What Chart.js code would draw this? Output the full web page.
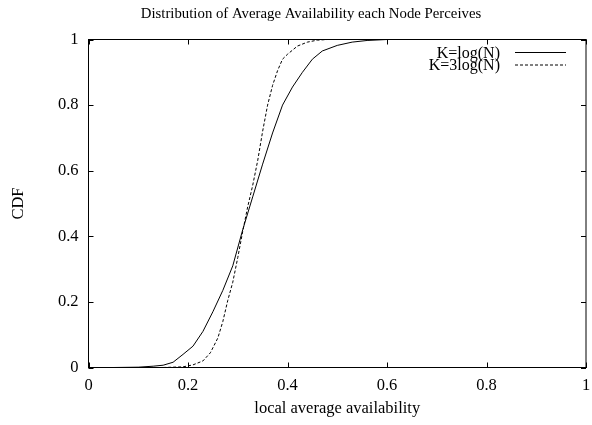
<!DOCTYPE html>
<html>
<head>
	<title>Distribution of Average Availability each Node Perceives</title>
	<script src="https://cdn.jsdelivr.net/npm/chart.js"></script>
	<style>
		html, body { margin: 0; padding: 0; background: #fff; }
		#wrap { width: 592px; height: 425px; }
	</style>
</head>
<body>
	<div id="wrap"><canvas id="cdf"></canvas></div>
	<script>
		var titleText = 'Distribution of Average Availability each Node Perceives';
		var xLabel = 'local average availability';
		var yLabel = 'CDF';
		var tickValues = [0, 0.2, 0.4, 0.6, 0.8, 1];

		// K=log(N)
		var logX = [0.05, 0.10, 0.13, 0.15, 0.17, 0.19, 0.21, 0.23, 0.25, 0.27, 0.29, 0.31, 0.33,
			0.35, 0.37, 0.39, 0.41, 0.43, 0.45, 0.47, 0.50, 0.53, 0.56, 0.60, 0.65];
		var logY = [0, 0.001, 0.004, 0.007, 0.016, 0.04, 0.065, 0.11, 0.17, 0.235, 0.31, 0.42, 0.52,
			0.62, 0.715, 0.80, 0.855, 0.90, 0.94, 0.965, 0.982, 0.992, 0.997, 1.0, 1.0];

		// K=3log(N)
		var log3X = [0.15, 0.19, 0.21, 0.23, 0.245, 0.26, 0.27, 0.28, 0.29, 0.30, 0.31, 0.32, 0.33,
			0.34, 0.35, 0.36, 0.37, 0.38, 0.39, 0.40, 0.42, 0.44, 0.46, 0.48, 0.50];
		var log3Y = [0, 0.002, 0.008, 0.02, 0.045, 0.09, 0.14, 0.205, 0.26, 0.335, 0.415, 0.49, 0.555,
			0.63, 0.72, 0.80, 0.86, 0.905, 0.94, 0.955, 0.98, 0.992, 0.998, 1.0, 1.0];

		var seriesNames = ['K=log(N)', 'K=3log(N)'];

		function toPoints(xs, ys) {
			var pts = [];
			for (var i = 0; i < xs.length; i++) pts.push({x: xs[i], y: ys[i]});
			return pts;
		}

		var serif = '"Liberation Serif", "DejaVu Serif", serif';

		// frame, inward ticks on all four sides, title and gnuplot-style key
		var gnuplotLook = {
			id: 'gnuplotLook',
			afterDatasetsDraw: function(chart) {
				var ctx = chart.ctx;
				var a = chart.chartArea;
				var xs = chart.scales.x, ys = chart.scales.y;
				var len = 5;
				ctx.save();
				ctx.strokeStyle = '#000';
				ctx.lineWidth = 1;
				ctx.setLineDash([]);
				ctx.beginPath();
				tickValues.forEach(function(v) {
					var px = Math.round(xs.getPixelForValue(v)) + 0.5;
					ctx.moveTo(px, a.bottom); ctx.lineTo(px, a.bottom - len);
					ctx.moveTo(px, a.top); ctx.lineTo(px, a.top + len);
					var py = Math.round(ys.getPixelForValue(v)) + 0.5;
					ctx.moveTo(a.left, py); ctx.lineTo(a.left + len, py);
					ctx.moveTo(a.right, py); ctx.lineTo(a.right - len, py);
				});
				ctx.stroke();
				ctx.strokeRect(a.left, a.top, a.right - a.left, a.bottom - a.top);

				ctx.fillStyle = '#000';
				ctx.font = '14.8px ' + serif;
				ctx.textAlign = 'center';
				ctx.textBaseline = 'middle';
				ctx.fillText(titleText, 311, 14);

				ctx.font = '16px ' + serif;
				ctx.textAlign = 'right';
				var rows = [52.5, 65];
				chart.data.datasets.forEach(function(ds, i) {
					ctx.fillText(ds.label, 500, rows[i] + 1);
					ctx.setLineDash(ds.borderDash || []);
					ctx.beginPath();
					ctx.moveTo(515, rows[i]);
					ctx.lineTo(566, rows[i]);
					ctx.stroke();
				});
				ctx.restore();
			}
		};

		function plainLabel(v) { return String(Math.round(v * 10) / 10); }

		new Chart(document.getElementById('cdf'), {
			type: 'scatter',
			data: {
				datasets: [
					{
						label: seriesNames[0],
						data: toPoints(logX, logY),
						showLine: true,
						borderColor: '#000',
						borderWidth: 1,
						pointRadius: 0,
						tension: 0
					},
					{
						label: seriesNames[1],
						data: toPoints(log3X, log3Y),
						showLine: true,
						borderColor: '#000',
						borderWidth: 1,
						borderDash: [3, 2],
						pointRadius: 0,
						tension: 0
					}
				]
			},
			options: {
				responsive: true,
				maintainAspectRatio: false,
				animation: false,
				layout: { padding: { top: 39.5, right: 6, bottom: 0, left: 6 } },
				plugins: {
					legend: { display: false },
					title: { display: false },
					tooltip: { enabled: false }
				},
				scales: {
					x: {
						type: 'linear',
						min: 0, max: 1,
						afterFit: function(s) { s.height = 57.5; s.paddingLeft = 0; s.paddingRight = 0; },
						afterBuildTicks: function(s) { s.ticks = tickValues.map(function(v) { return {value: v}; }); },
						grid: { drawOnChartArea: false, drawTicks: false },
						border: { color: '#000', width: 1 },
						ticks: { color: '#000', padding: 8, font: { family: serif, size: 16.5 }, maxRotation: 0, callback: plainLabel },
						title: { display: true, text: xLabel, color: '#000', font: { family: serif, size: 16.5 }, padding: { top: 4, bottom: 6 } }
					},
					y: {
						type: 'linear',
						min: 0, max: 1,
						afterFit: function(s) { s.width = 82.5; s.paddingTop = 0; s.paddingBottom = 0; },
						afterBuildTicks: function(s) { s.ticks = tickValues.map(function(v) { return {value: v}; }); },
						grid: { drawOnChartArea: false, drawTicks: false },
						border: { color: '#000', width: 1 },
						ticks: { color: '#000', padding: 10, font: { family: serif, size: 16.5 }, callback: plainLabel },
						title: { display: true, text: yLabel, color: '#000', font: { family: serif, size: 16.5 }, padding: { top: 3, bottom: 4 } }
					}
				}
			},
			plugins: [gnuplotLook]
		});
	</script>
</body>
</html>
